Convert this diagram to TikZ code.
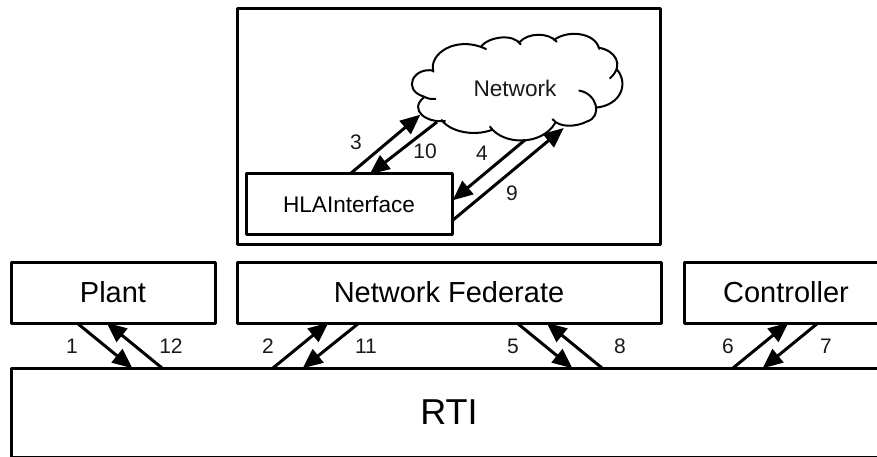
\documentclass[tikz,border=0pt]{standalone}
\usepackage{fontspec}
\setmainfont{Liberation Sans}
\usetikzlibrary{arrows.meta}
\tikzset{
  box/.style={draw=black,line width=3pt,line join=round,outer sep=0pt,inner sep=0pt,fill=white},
  txt/.style={inner sep=0pt,outer sep=0pt,text=black!90},
  smalllabel/.style={txt,font=\fontsize{22.6}{24}\selectfont},
  numlabel/.style={txt,font=\fontsize{21}{23}\selectfont},
  conn/.style={line width=3pt,-{Triangle[length=20pt,width=17pt]},shorten >=-0.5pt},
  cloudline/.style={line width=2pt,line cap=round},
}
\begin{document}
\begin{tikzpicture}[x=1pt,y=-1pt]
\useasboundingbox (0,0) rectangle (877,457);
\clip (0,0) rectangle (877,457);
% boxes
\node[box,minimum width=423pt,minimum height=235pt] (outer) at (448.5,126.5) {};
\node[box,minimum width=206pt,minimum height=60pt,font=\fontsize{22.6}{24}\selectfont] (hla) at (349,204) {HLAInterface};
\node[box,minimum width=204pt,minimum height=61pt,font=\fontsize{29}{30}\selectfont] (plant) at (113,292.5) {Plant};
\node[box,minimum width=424pt,minimum height=61pt,font=\fontsize{29}{30}\selectfont] (fed) at (449,292.5) {Network Federate};
\node[box,minimum width=204pt,minimum height=61pt,font=\fontsize{29}{30}\selectfont] (ctrl) at (786,292.5) {Controller};
\node[box,minimum width=876pt,minimum height=89pt,font=\fontsize{36}{38}\selectfont] (rti) at (449,412.5) {RTI};
% cloud
\begin{scope}[shift={(400,25)},x=0.3333pt,y=-0.3333pt]
\draw[cloudline]
  (100,140) .. controls (85,85) and (170,30) .. (258,72)
  (245,62) .. controls (270,35) and (340,25) .. (362,58)
  (358,52) .. controls (385,22) and (445,22) .. (470,50)
  (462,45) .. controls (500,15) and (585,20) .. (598,72)
  (595,68) .. controls (645,75) and (675,120) .. (630,160)
  (652,135) .. controls (685,175) and (665,240) .. (588,248)
  (538,197) .. controls (590,205) and (610,275) .. (560,290)
     .. controls (530,305) and (480,310) .. (458,283)
  (465,295) .. controls (425,362) and (310,362) .. (270,305)
  (275,315) .. controls (220,335) and (150,320) .. (125,285)
  (135,288) .. controls (80,295) and (25,255) .. (72,217)
  (100,137) .. controls (40,125) and (5,195) .. (72,215)
     .. controls (85,222) and (95,223) .. (106,222);
\coordinate (c3) at (60,270);
\coordinate (c10) at (111,291);
\coordinate (c4) at (375,345);
\coordinate (c9) at (490,310);
\end{scope}
\node[smalllabel] (netlab) at (515,88) {Network};
% connector ends
\coordinate (h3) at (350,174);
\coordinate (h10) at (370,174);
\coordinate (h4) at (453,200);
\coordinate (h9) at (453,220);
\coordinate (a1) at (77,323);   \coordinate (b1) at (132,368);
\coordinate (a12) at (107,323); \coordinate (b12) at (162,368);
\coordinate (a2) at (328,323);  \coordinate (b2) at (273,368);
\coordinate (a11) at (359,323); \coordinate (b11) at (303,368);
\coordinate (a5) at (517,323);  \coordinate (b5) at (572,368);
\coordinate (a8) at (547,323);  \coordinate (b8) at (602,368);
\coordinate (a6) at (788,323);  \coordinate (b6) at (733,368);
\coordinate (a7) at (818,323);  \coordinate (b7) at (763,368);
% connectors
\draw[conn] (h3) -- (c3);
\draw[conn] (c10) -- (h10);
\draw[conn] (c4) -- (h4);
\draw[conn] (h9) -- (c9);
\draw[conn] (a1) -- (b1);
\draw[conn] (b12) -- (a12);
\draw[conn] (b2) -- (a2);
\draw[conn] (a11) -- (b11);
\draw[conn] (a5) -- (b5);
\draw[conn] (b8) -- (a8);
\draw[conn] (b6) -- (a6);
\draw[conn] (a7) -- (b7);
% labels
\node[numlabel] (n3) at (356,142) {3};
\node[numlabel] (n10) at (425,151) {10};
\node[numlabel] (n4) at (482,153) {4};
\node[numlabel] (n9) at (512,193) {9};
\node[numlabel] (n1) at (72,346) {1};
\node[numlabel] (n12) at (171,346) {12};
\node[numlabel] (n2) at (268,346) {2};
\node[numlabel] (n11) at (366,346) {11};
\node[numlabel] (n5) at (513,346) {5};
\node[numlabel] (n8) at (620,346) {8};
\node[numlabel] (n6) at (728,346) {6};
\node[numlabel] (n7) at (826,346) {7};
\end{tikzpicture}
\end{document}
